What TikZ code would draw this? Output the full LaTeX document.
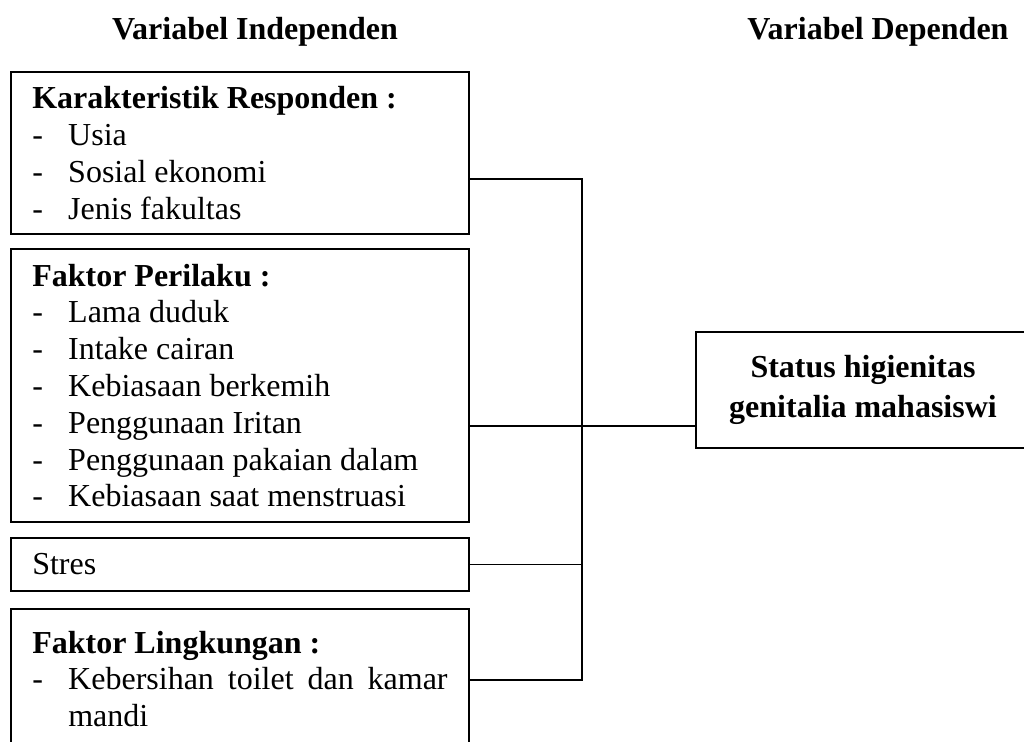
\documentclass[tikz,border=0pt]{standalone}
\usepackage{fontspec}
\setmainfont{Liberation Serif}
\usetikzlibrary{positioning}
\newcommand{\itm}[1]{\par\noindent\hangindent=13.5pt\hangafter=1\makebox[13.5pt][l]{-}#1\par}

\begin{document}
\begin{tikzpicture}[x=0.375pt, y=-0.375pt, line width=0.7pt]
    \tikzstyle{every node}=[font=\fontsize{12pt}{13.8pt}\selectfont]
    \tikzstyle{title}=[font=\fontsize{12pt}{13.8pt}\selectfont\bfseries]
    \tikzstyle{varbox}=[draw, anchor=north west, text width=155.75pt, inner xsep=8pt, inner ysep=0pt, align=justify]
    \tikzstyle{depbox}=[draw, align=center, font=\fontsize{12pt}{15pt}\selectfont\bfseries, minimum width=125.25pt, minimum height=43.5pt]

    \useasboundingbox (0,0) rectangle (1024,742);

    \node[title] (indep) at (255,32) {Variabel Independen};
    \node[title] (dep) at (878,32) {Variabel Dependen};

    \node[varbox, minimum height=60.75pt] (resp) at (10,71) {\textbf{Karakteristik Responden :}
        \itm{Usia}
        \itm{Sosial ekonomi}
        \itm{Jenis fakultas}};
    \node[varbox, minimum height=102.4pt] (perilaku) at (10,248) {\textbf{Faktor Perilaku :}
        \itm{Lama duduk}
        \itm{Intake cairan}
        \itm{Kebiasaan berkemih}
        \itm{Penggunaan Iritan}
        \itm{Penggunaan pakaian dalam}
        \itm{Kebiasaan saat menstruasi}};
    \node[varbox, minimum height=19.9pt] (stres) at (10,537) {Stres};
    \node[varbox, minimum height=52.5pt] (lingk) at (10,608) {\textbf{Faktor Lingkungan :}
        \itm{Kebersihan toilet dan kamar mandi}};

    \node[depbox] (status) at (863,390) {Status higienitas\\genitalia mahasiswi};

    \coordinate (top) at (582,179);
    \coordinate (mid) at (582,426);
    \coordinate (bot) at (582,680);
    \draw (resp.east |- top) -- (top) -- (bot) -- (lingk.east |- bot);
    \draw (perilaku.east |- mid) -- (status.west |- mid);
    \draw (stres.east) -- (stres.east -| top);

\end{tikzpicture}
\end{document}
